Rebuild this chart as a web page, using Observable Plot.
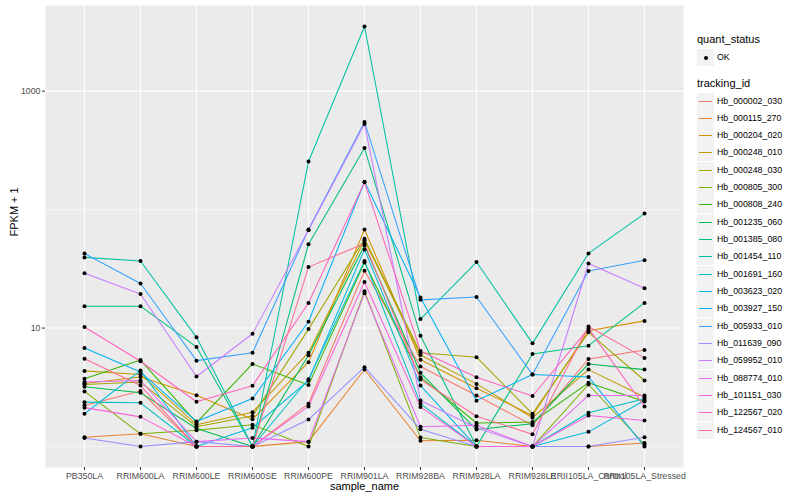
<!DOCTYPE html>
<html><head><meta charset="utf-8">
<script src="https://cdn.jsdelivr.net/npm/d3@7"></script>
<script src="https://cdn.jsdelivr.net/npm/@observablehq/plot@0.6"></script>
<style>
body{margin:0;background:#fff;font-family:"Liberation Sans",Arial,Helvetica,sans-serif;}
#wrap{position:relative;width:800px;height:500px;overflow:hidden;}
#chart{position:absolute;left:0;top:0;}
#legend{position:absolute;left:697px;top:0;width:103px;height:500px;}
.lt{position:absolute;left:0;font-size:11px;color:#000;white-space:nowrap;}
.row{position:absolute;left:0;height:17px;white-space:nowrap;}
.key{position:absolute;left:0;top:0;width:17px;height:17px;background:#F2F2F2;}
.key .ln{position:absolute;left:2px;right:2px;top:8px;height:1px;}
.key .pt{position:absolute;left:6.5px;top:6.5px;width:4px;height:4px;border-radius:2px;background:#000;}
.lab{position:absolute;left:20px;top:3px;font-size:8.8px;color:#000;line-height:11px;}
</style></head>
<body><div id="wrap"><div id="chart"></div><div id="legend"></div></div>
<script>
const samples = ["PB350LA","RRIM600LA","RRIM600LE","RRIM600SE","RRIM600PE","RRIM901LA","RRIM928BA","RRIM928LA","RRIM928LE","RRII105LA_Control","RRII105LA_Stressed"];
const trackingIds = ["Hb_000002_030","Hb_000115_270","Hb_000204_020","Hb_000248_010","Hb_000248_030","Hb_000805_300","Hb_000808_240","Hb_001235_060","Hb_001385_080","Hb_001454_110","Hb_001691_160","Hb_003623_020","Hb_003927_150","Hb_005933_010","Hb_011639_090","Hb_059952_010","Hb_088774_010","Hb_101151_030","Hb_122567_020","Hb_124567_010"];
const palette = ["#F8766D","#EA8331","#D89000","#C09B00","#A3A500","#7CAE00","#39B600","#00BB4E","#00BF7D","#00C1A3","#00BFC4","#00BAE0","#00B0F6","#35A2FF","#9590FF","#C77CFF","#E76BF3","#FA62DB","#FF62BC","#FF6C91"];
const quantStatus = ["OK"];

// FPKM + 1 per tracking_id, in sample order
const hb000002_030 = [2.22, 2.94, 1.0, 1.0, 2.3, 30.5, 4.73, 2.7, 1.51, 5.48, 6.53];
const hb000115_270 = [1.2, 1.28, 1.0, 1.0, 1.1, 4.47, 1.12, 1.13, 1.0, 1.0, 1.07];
const hb000204_020 = [3.4, 3.86, 2.71, 1.70, 5.15, 68, 5.4, 3.11, 1.83, 9.5, 11.5];
const hb000248_010 = [4.35, 4.06, 1.53, 1.95, 6.2, 55.2, 5.93, 3.38, 1.75, 4.46, 2.62];
const hb000248_030 = [3.34, 3.5, 1.47, 1.81, 9.8, 56.8, 6.2, 5.68, 1.89, 9.2, 3.61];
const hb000805_300 = [2.92, 1.28, 1.37, 1.53, 1.0, 20.5, 1.19, 1.0, 1.0, 3.34, 1.04];
const hb000808_240 = [3.73, 5.37, 1.59, 4.98, 3.3, 35.7, 3.85, 1.58, 1.61, 3.45, 2.4];
const hb001235_060 = [3.2, 2.84, 1.42, 1.0, 5.9, 49.8, 4.19, 1.39, 1.56, 4.98, 4.46];
const hb001385_080 = [15.3, 15.3, 6.93, 1.0, 51, 331, 8.6, 1.0, 6.05, 7.1, 16.3];
const hb001454_110 = [39.5, 36.8, 8.35, 1.0, 255, 3515, 11.9, 36.1, 7.43, 42.7, 92.5];
const hb001691_160 = [2.37, 2.34, 1.0, 1.0, 3.7, 36.8, 2.3, 1.0, 1.0, 1.93, 2.53];
const hb003623_020 = [1.89, 4.38, 1.0, 1.44, 3.6, 46.1, 3.27, 1.0, 1.0, 1.33, 2.45];
const hb003927_150 = [6.8, 4.25, 1.63, 2.54, 11.3, 172, 18.1, 2.44, 4.05, 3.87, 1.0];
const hb005933_010 = [42.6, 23.8, 5.31, 6.2, 68, 550, 17.3, 18.3, 4.05, 30.3, 37.3];
const hb011639_090 = [1.18, 1.0, 1.1, 1.0, 1.69, 4.68, 1.4, 1.0, 1.0, 1.0, 1.2];
const hb059952_010 = [29, 19.4, 3.9, 8.95, 67, 527, 2.45, 1.44, 1.0, 35.1, 21.7];
const hb088774_010 = [3.5, 3.61, 1.1, 1.18, 1.1, 19.7, 1.47, 1.51, 1.0, 2.7, 2.7];
const hb101151_030 = [2.13, 1.78, 1.0, 1.0, 2.18, 24.5, 2.16, 1.0, 1.0, 1.83, 1.66];
const hb122567_020 = [10.2, 5.25, 2.39, 3.26, 16.3, 170, 6.4, 3.85, 2.67, 9.9, 2.18];
const hb124567_010 = [5.5, 3.27, 1.0, 1.0, 32.7, 51.8, 3.68, 1.8, 1.27, 10.3, 5.6];

const seriesValues = [hb000002_030, hb000115_270, hb000204_020, hb000248_010, hb000248_030, hb000805_300, hb000808_240, hb001235_060, hb001385_080, hb001454_110, hb001691_160, hb003623_020, hb003927_150, hb005933_010, hb011639_090, hb059952_010, hb088774_010, hb101151_030, hb122567_020, hb124567_010];

const yTicks = [10, 1000];
const yMinorBreaks = [1, 100];

const rows = [];
trackingIds.forEach((id, i) => {
  samples.forEach((s, j) => {
    rows.push({tracking_id: id, sample_name: s, value: seriesValues[i][j], quant_status: quantStatus[0]});
  });
});

const W = 690, H = 500, mL = 45, mR = 7, mT = 5, mB = 33;
// ggplot-style discrete expansion: 0.6 of a step on each side
const expand = 0.6;
const step = (W - mL - mR) / (samples.length - 1 + 2 * expand);
const font = "Liberation Sans, Arial, Helvetica, sans-serif";
const chart = Plot.plot({
  width: W,
  height: H,
  marginLeft: mL,
  marginRight: mR,
  marginTop: mT,
  marginBottom: mB,
  style: {fontFamily: font, background: "transparent", overflow: "visible"},
  x: {type: "point", domain: samples, padding: 0, range: [mL + expand * step, W - mR - expand * step]},
  y: {type: "log", domain: [Math.pow(10, -0.177), Math.pow(10, 3.723)]},
  color: {domain: trackingIds, range: palette},
  marks: [
    Plot.frame({fill: "#EBEBEB", stroke: null}),
    Plot.ruleY(yMinorBreaks, {stroke: "#FFFFFF", strokeWidth: 0.55}),
    Plot.ruleY(yTicks, {stroke: "#FFFFFF", strokeWidth: 1.1}),
    Plot.ruleX(samples, {stroke: "#FFFFFF", strokeWidth: 1.1}),
    Plot.line(rows, {x: "sample_name", y: "value", z: "tracking_id", stroke: "tracking_id", strokeWidth: 1.05}),
    Plot.dot(rows, {x: "sample_name", y: "value", fill: "#000000", stroke: null, r: 2}),
    Plot.axisX({tickSize: 3, tickPadding: 2, fontSize: 8.8, fill: "#4D4D4D", stroke: "#333333", label: null}),
    Plot.axisY({ticks: yTicks, tickFormat: d => String(d), tickSize: 3, tickPadding: 2, fontSize: 8.8, fill: "#4D4D4D", stroke: "#333333", label: null}),
    Plot.text(["sample_name"], {frameAnchor: "bottom", dy: 22, fontSize: 11, fill: "#000000"}),
    Plot.text(["FPKM + 1"], {frameAnchor: "left", dx: -31, rotate: -90, fontSize: 11, fill: "#000000"})
  ]
});
document.getElementById("chart").appendChild(chart);

// legend
const legend = document.getElementById("legend");
function add(el){ legend.appendChild(el); return el; }
const t1 = add(document.createElement("div"));
t1.className = "lt"; t1.style.top = "33px"; t1.textContent = "quant_status";
quantStatus.forEach((q, i) => {
  const r = add(document.createElement("div"));
  r.className = "row"; r.style.top = (49 + i * 17.33) + "px";
  r.innerHTML = `<div class="key"><div class="pt"></div></div><div class="lab">${q}</div>`;
});
const t2 = add(document.createElement("div"));
t2.className = "lt"; t2.style.top = "77px"; t2.textContent = "tracking_id";
trackingIds.forEach((id, i) => {
  const r = add(document.createElement("div"));
  r.className = "row"; r.style.top = (92.5 + i * 17.33) + "px";
  r.innerHTML = `<div class="key"><div class="ln" style="background:${palette[i]}"></div></div><div class="lab">${id}</div>`;
});
</script>
</body></html>
